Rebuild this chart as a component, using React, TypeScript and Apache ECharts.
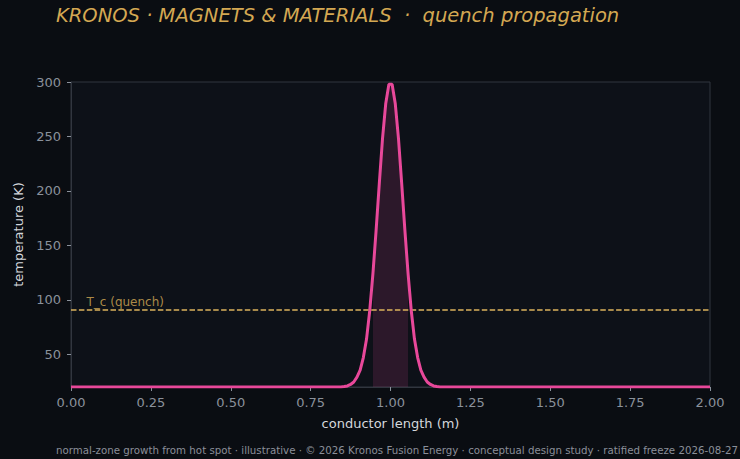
import React, { useEffect, useRef } from "react";
import * as echarts from "echarts";

const titleText = "KRONOS · MAGNETS & MATERIALS  ·  quench propagation";
const footerText =
  "normal-zone growth from hot spot · illustrative · © 2026 Kronos Fusion Energy · conceptual design study · ratified freeze 2026-08-27";

// conductor position (m)
const lengthM = [
  0, 0.845, 0.855, 0.865, 0.875, 0.885, 0.895, 0.905, 0.915, 0.925, 0.935, 0.945,
  0.955, 0.965, 0.975, 0.985, 0.995, 1.005, 1.015, 1.025, 1.035, 1.045, 1.055,
  1.065, 1.075, 1.085, 1.095, 1.105, 1.115, 1.125, 1.135, 1.145, 1.155, 2,
];
// temperature (K)
const temperatureK = [
  20, 20.1, 20.4, 21.0, 22.3, 24.6, 29, 35.5, 47, 64, 90, 124,
  164, 207, 248, 280, 298, 298, 280, 248, 207, 164, 124,
  90, 64, 47, 35.5, 29, 24.6, 22.3, 21.0, 20.4, 20.1, 20,
];
const tcValue = 91;
const tcLabel = "T_c (quench)";
const tcLabelX = 0.05;
const xTicks = [0, 0.25, 0.5, 0.75, 1.0, 1.25, 1.5, 1.75, 2.0];
const yTicks = [50, 100, 150, 200, 250, 300];
const yMin = 20;
const yMax = 300;

const FONT = "DejaVu Sans";

export default function App() {
  const ref = useRef<HTMLDivElement>(null);
  useEffect(() => {
    if (!ref.current) return;
    const chart = echarts.init(ref.current, undefined, { renderer: "svg" });
    const curve = lengthM.map((x, i) => [x, temperatureK[i]]);
    const normalZone = curve.filter((p) => p[1] > tcValue);
    chart.setOption({
      animation: false,
      backgroundColor: "#0a0d12",
      title: [
        {
          text: titleText,
          left: 56,
          top: 5,
          padding: 0,
          textStyle: {
            fontFamily: FONT,
            fontStyle: "italic",
            fontWeight: "normal",
            fontSize: 19.5,
            color: "#d4a852",
          },
        },
        {
          text: footerText,
          left: 56,
          top: 445,
          padding: 0,
          textStyle: {
            fontFamily: FONT,
            fontWeight: "normal",
            fontSize: 10.25,
            color: "#8a8f99",
          },
        },
      ],
      grid: {
        left: 71,
        right: 30,
        top: 82,
        bottom: 72,
        show: true,
        backgroundColor: "#0d1118",
        borderColor: "#31363f",
        borderWidth: 1,
      },
      xAxis: {
        type: "value",
        min: 0,
        max: 2,
        interval: 0.25,
        name: "conductor length (m)",
        nameLocation: "middle",
        nameGap: 30,
        nameTextStyle: { fontFamily: FONT, fontSize: 13, color: "#d4d7dc" },
        axisLine: { show: true, lineStyle: { color: "#31363f" } },
        axisTick: {
          show: true,
          length: 4,
          lineStyle: { color: "#8a919b" },
          customValues: xTicks,
        },
        axisLabel: {
          fontFamily: FONT,
          fontSize: 13,
          color: "#8a919b",
          margin: 9,
          customValues: xTicks,
          formatter: (v: number) => v.toFixed(2),
        },
        splitLine: { show: false },
      },
      yAxis: {
        type: "value",
        min: yMin,
        max: yMax,
        name: "temperature (K)",
        nameLocation: "middle",
        nameGap: 44,
        nameTextStyle: { fontFamily: FONT, fontSize: 13, color: "#d4d7dc" },
        axisLine: { show: true, lineStyle: { color: "#31363f" } },
        axisTick: {
          show: true,
          length: 4,
          lineStyle: { color: "#8a919b" },
          customValues: yTicks,
        },
        axisLabel: {
          fontFamily: FONT,
          fontSize: 13,
          color: "#8a919b",
          margin: 10,
          customValues: yTicks,
        },
        splitLine: { show: false },
      },
      series: [
        {
          type: "line",
          data: normalZone,
          symbol: "none",
          lineStyle: { width: 0 },
          areaStyle: { color: "rgba(232,72,154,0.2)", origin: "start" },
          silent: true,
          z: 1,
        },
        {
          type: "line",
          data: curve,
          symbol: "none",
          clip: true,
          lineStyle: { width: 3, color: "#e8489a" },
          z: 3,
          markLine: {
            silent: true,
            symbol: "none",
            label: { show: false },
            lineStyle: { type: [5.5, 2.4], width: 1.6, color: "#dbb35c" },
            data: [{ yAxis: tcValue }],
            z: 2,
          },
        },
        {
          type: "scatter",
          data: [[tcLabelX, tcValue]],
          symbolSize: 1,
          itemStyle: { color: "rgba(0,0,0,0)" },
          silent: true,
          z: 4,
          label: {
            show: true,
            formatter: tcLabel,
            position: [0, -1],
            align: "left",
            verticalAlign: "bottom",
            fontFamily: FONT,
            fontSize: 12,
            color: "#d6ab55",
          },
        },
      ],
    });
    return () => chart.dispose();
  }, []);
  return (
    <div
      ref={ref}
      style={{ position: "fixed", left: 0, top: 0, width: 740, height: 459 }}
    />
  );
}
